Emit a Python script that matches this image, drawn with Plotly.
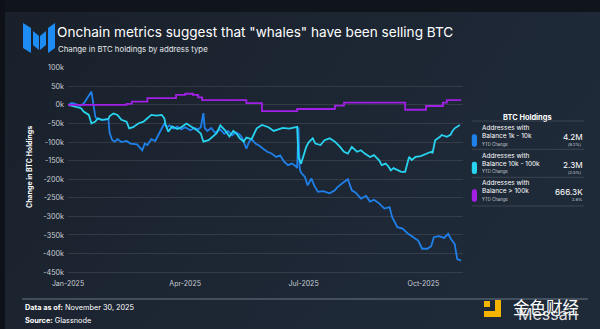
import base64
import pandas as pd
import plotly.graph_objects as go

# ---------------- data (day offset from 2025-01-01, change in BTC holdings in thousands) ----------------
blue_days = [0, 3, 6, 9, 12, 16, 18, 21, 22, 27, 31, 32, 34, 36, 38, 41, 45, 48, 53, 57, 59, 61, 64, 67, 69,
             71, 74, 76, 78, 81, 84, 87, 90, 94, 97, 100, 102, 104, 105, 107, 110, 113, 117, 120, 123, 126,
             129, 132, 134, 137, 139, 141, 144, 147, 150, 153, 156, 160, 163, 166, 169, 172, 175, 176, 177,
             178, 179, 182, 184, 187, 189, 192, 196, 201, 205, 207, 211, 215, 218, 221, 225, 229, 232, 235,
             239, 243, 247, 249, 253, 257, 261, 265, 269, 272, 276, 279, 281, 285, 289, 292, 294, 297, 298,
             299, 302]
blue_vals = [0, 5, 2, -2, 3, 27, 36, -32, -38, -40, -38, -76, -95, -99, -92, -100, -97, -104, -106, -122,
             -104, -108, -92, -97, -84, -70, -50, -60, -55, -64, -58, -66, -60, -68, -62, -66, -60, -22, -62,
             -70, -62, -75, -66, -78, -70, -82, -74, -80, -90, -118, -100, -92, -104, -110, -118, -126, -130,
             -140, -136, -153, -162, -158, -165, -170, -60, -172, -182, -194, -216, -198, -216, -234, -232,
             -238, -230, -221, -210, -200, -230, -236, -252, -245, -260, -255, -265, -279, -275, -302, -329,
             -333, -346, -355, -365, -387, -387, -380, -356, -353, -358, -347, -360, -374, -400, -415, -419]

cyan_days = [0, 3, 7, 10, 12, 14, 16, 18, 21, 23, 26, 31, 32, 35, 38, 41, 45, 47, 50, 54, 58, 61, 64, 68, 72,
             74, 75, 77, 78, 80, 84, 87, 91, 95, 99, 102, 104, 108, 111, 114, 117, 121, 124, 127, 130, 132,
             135, 137, 141, 145, 149, 154, 158, 161, 165, 170, 175, 176, 177, 179, 183, 185, 188, 190, 194,
             197, 201, 205, 209, 212, 215, 218, 222, 225, 228, 232, 235, 239, 241, 244, 246, 248, 250, 253,
             256, 259, 261, 262, 264, 267, 271, 273, 276, 279, 280, 282, 286, 287, 291, 294, 295, 297, 301]
cyan_vals = [0, -3, -5, -9, -18, -22, -27, -50, -45, -36, -40, -38, -30, -23, -27, -40, -45, -63, -60, -50,
             -45, -36, -27, -29, -27, -36, -54, -72, -68, -58, -65, -60, -50, -58, -68, -77, -99, -95, -85,
             -77, -55, -70, -85, -70, -80, -90, -99, -88, -92, -63, -54, -60, -70, -66, -62, -64, -60, -59,
             -140, -158, -113, -100, -90, -104, -108, -95, -90, -99, -113, -126, -131, -113, -126, -122,
             -131, -140, -135, -149, -162, -158, -165, -176, -170, -174, -180, -180, -153, -140, -148, -140,
             -138, -135, -130, -126, -130, -95, -85, -81, -86, -80, -72, -63, -54]

purple_days = [0, 45, 49, 61, 83, 90, 96, 100, 103, 137, 149, 176, 205, 212, 259, 275, 288, 291, 302]
purple_vals = [0, 3, 9, 18, 27, 30, 27, 20, 13, 5, -17, -11, -2, 6, -13, -3, 6, 13, 13]

series_names = ["Balance 1k - 10k", "Balance 10k - 100k", "Balance > 100k"]
holdings = ["4.2M", "2.3M", "666.3K"]
ytd_change = ["(9.2%)", "(2.5%)", "2.9%"]
x_ticks = ["2025-01-01", "2025-04-01", "2025-07-01", "2025-10-01"]
x_tick_text = ["Jan-2025", "Apr-2025", "Jul-2025", "Oct-2025"]
y_ticks = list(range(-450, 101, 50))
y_tick_text = [f"{v}k" for v in y_ticks]

COLORS = ["#1f80ea", "#27d3ee", "#a11fe6"]
FONT = "Inter, Roboto, Liberation Sans, sans-serif"

start = pd.Timestamp("2025-01-01")
def to_dates(days):
    return start + pd.to_timedelta(days, unit="D")

# ---------------- pixel helpers for decorations ----------------
L, R, T, B = 68, 463, 67, 274
W, H = 600, 329
def px(x):
    return (x - L) / (R - L)
def py(y):
    return (B - y) / (B - T)

fig = go.Figure()
fig.add_trace(go.Scatter(x=to_dates(blue_days), y=blue_vals, mode="lines", name=series_names[0],
                         line=dict(color=COLORS[0], width=1.8)))
fig.add_trace(go.Scatter(x=to_dates(cyan_days), y=cyan_vals, mode="lines", name=series_names[1],
                         line=dict(color=COLORS[1], width=1.8)))
fig.add_trace(go.Scatter(x=to_dates(purple_days), y=purple_vals, mode="lines", name=series_names[2],
                         line=dict(color=COLORS[2], width=1.8, shape="hv")))

# background gradient
svg = ('<svg xmlns="http://www.w3.org/2000/svg" width="600" height="329">'
       '<defs><linearGradient id="g" x1="0" y1="0" x2="1" y2="0.4">'
       '<stop offset="0" stop-color="#19202a"/><stop offset="1" stop-color="#1f2a39"/></linearGradient></defs>'
       '<rect width="600" height="329" fill="url(#g)"/>'
       '<rect width="600" height="12" fill="#10141b"/>'
       '<rect width="5" height="329" fill="#0e1117"/></svg>')
src = "data:image/svg+xml;base64," + base64.b64encode(svg.encode()).decode()

shapes = []
# logo
logo_parts = [
    [(23, 23), (31, 28), (31, 53), (23, 48)],
    [(33, 31), (39, 36), (39, 50), (33, 45)],
    [(40, 36), (46, 31), (46, 45), (40, 50)],
    [(48, 28), (55, 23), (55, 48), (48, 53)],
]
for part in logo_parts:
    path = "M " + " L ".join(f"{px(x)},{py(y)}" for x, y in part) + " Z"
    shapes.append(dict(type="path", xref="paper", yref="paper", path=path,
                       fillcolor="#1d8df5", line=dict(width=0), layer="above"))

# legend separators
for yy in [121, 149.3, 177.3, 206]:
    shapes.append(dict(type="line", xref="paper", yref="paper", x0=px(472), x1=px(584), y0=py(yy), y1=py(yy),
                       line=dict(color="rgba(255,255,255,0.13)", width=1)))

# legend pills
def pill(x0, x1, y0, y1, r=2.2):
    pts = (f"M {px(x0 + r)},{py(y0)} L {px(x1 - r)},{py(y0)} Q {px(x1)},{py(y0)} {px(x1)},{py(y0 + r)} "
           f"L {px(x1)},{py(y1 - r)} Q {px(x1)},{py(y1)} {px(x1 - r)},{py(y1)} "
           f"L {px(x0 + r)},{py(y1)} Q {px(x0)},{py(y1)} {px(x0)},{py(y1 - r)} "
           f"L {px(x0)},{py(y0 + r)} Q {px(x0)},{py(y0)} {px(x0 + r)},{py(y0)} Z")
    return pts
for (y0, y1), c in zip([(134.3, 146.7), (161.7, 174), (189.3, 201.7)], COLORS):
    shapes.append(dict(type="path", xref="paper", yref="paper", path=pill(471.8, 477, y0, y1),
                       fillcolor=c, line=dict(width=0)))

# bottom rule
shapes.append(dict(type="line", xref="paper", yref="paper", x0=px(22), x1=px(588), y0=py(299), y1=py(299),
                   line=dict(color="#6d7684", width=1)))

# watermark icon
for (x0, y0, x1, y1) in [(484, 301, 490, 307), (484, 311, 501, 317), (495, 300, 501, 317)]:
    shapes.append(dict(type="rect", xref="paper", yref="paper", x0=px(x0), x1=px(x1), y0=py(y0), y1=py(y1),
                       fillcolor="#f4b400", line=dict(width=0), layer="above"))

ann = []
def text(x, y, s, size, color="#ffffff", xanchor="left", bold=False, family=FONT, angle=0, align="left"):
    if bold:
        s = f"<b>{s}</b>"
    ann.append(dict(x=px(x), y=py(y), xref="paper", yref="paper", text=s, showarrow=False,
                    xanchor=xanchor, yanchor="middle", textangle=angle, borderpad=0, align=align,
                    font=dict(size=size, color=color, family=family)))

text(56, 31.7, 'Onchain metrics suggest that "whales" have been selling BTC', 13.6)
text(56.5, 49, "Change in BTC holdings by address type", 7.8, color="#e3e6ea")
text(29, 167, "Change in BTC Holdings", 7.0, bold=True, angle=-90, xanchor="center")

text(527, 117, "BTC Holdings", 7.4, bold=True, xanchor="center")
rows = [(132.1, 144.2, 137.2, 144.6), (159.5, 171.9, 164.7, 172.1), (187.2, 199.5, 192.2, 199.8)]
for i, (ya, yc, yv, yp) in enumerate(rows):
    text(480.5, ya, "Addresses with<br>" + series_names[i], 6.5)
    text(480.5, yc, "YTD Change", 4.3, color="#c9ced6")
    text(583.5, yv, holdings[i], 8.2, xanchor="right")
    text(583, yp, ytd_change[i], 4.1, color="#c9ced6", xanchor="right")

text(23.5, 307.5, "<b>Data as of:</b> November 30, 2025", 7.3)
text(23.5, 320, "<b>Source:</b> Glassnode", 7.3)

# watermark text
text(546, 307, "金色财经", 16.5, xanchor="center", family="Noto Sans CJK SC")
text(548, 314, "Messari", 16, color="rgba(255,255,255,0.85)", xanchor="center")

fig.update_layout(
    width=W, height=H,
    margin=dict(l=L, r=W - R, t=T, b=H - B, pad=0),
    paper_bgcolor="#1c2431", plot_bgcolor="rgba(0,0,0,0)",
    showlegend=False,
    font=dict(family=FONT, color="#c9ced6"),
    images=[dict(source=src, xref="paper", yref="paper", x=px(0), y=py(0), sizex=W / (R - L),
                 sizey=H / (B - T), xanchor="left", yanchor="top", sizing="stretch", layer="below")],
    shapes=shapes, annotations=ann,
    xaxis=dict(range=[start, pd.Timestamp("2025-10-31 10:00")], tickvals=x_ticks, ticktext=x_tick_text,
               showgrid=False, zeroline=False, showline=False, ticks="", ticklabelstandoff=4,
               tickfont=dict(size=7, color="#c9ced6")),
    yaxis=dict(range=[-455, 102], tickvals=y_ticks, ticktext=y_tick_text, showgrid=True,
               gridcolor="rgba(255,255,255,0.10)", gridwidth=1, zeroline=False, showline=False, ticks="",
               ticklabelstandoff=3, tickfont=dict(size=7.2, color="#c9ced6")),
)

fig.write_html("out.html")
